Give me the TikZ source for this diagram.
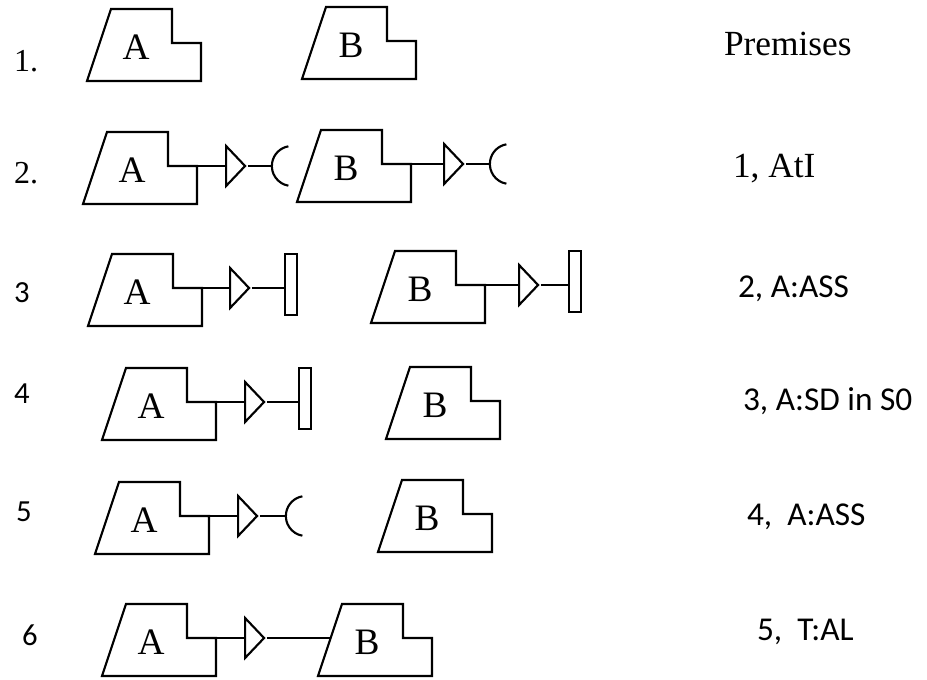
\documentclass[tikz,border=0pt]{standalone}
\usepackage{fontspec}
\setmainfont{Liberation Serif}
\newfontfamily\calibri{Carlito}
\usetikzlibrary{positioning, shapes.geometric}

\begin{document}
\begin{tikzpicture}[
  x=0.75pt, y=-0.75pt,
  line width=1.6pt,
  lbl/.style={inner sep=0, font=\fontsize{28}{30}\selectfont},
  blk/.pic={
    \draw (0,0) -- (24,-72) -- (85,-72) -- (85,-38) -- (114,-38) -- (114,0) -- cycle;
    \coordinate (-c) at (49,-34);
    \coordinate (-out) at (114,-38);
    \coordinate (-in) at (13,-38);
  },
  amp/.style={draw, isosceles triangle, isosceles triangle stretches,
              minimum width=30pt, minimum height=14.25pt, inner sep=0},
  bar/.style={draw, rectangle, minimum width=9pt, minimum height=46pt,
              inner sep=0, yshift=2.5pt},
  num/.style={anchor=base west, inner sep=0, font=\fontsize{24}{26}\selectfont},
  cnum/.style={anchor=base west, inner sep=0, font=\calibri\fontsize{23}{26}\selectfont},
  note/.style={anchor=base west, inner sep=0, font=\fontsize{26.5}{30}\selectfont},
  rule/.style={anchor=base west, inner sep=0, font=\calibri\fontsize{25}{28}\selectfont}
]
  \useasboundingbox (0,0) rectangle (927,679);

  % 1. premises
  \node[num] (n1) at (13,71) {1.};
  \pic (a1) at (87,81) {blk};
  \pic (b1) at (302,79) {blk};
  \node[note] (r1) at (723,55) {Premises};

  % 2.
  \node[num] (n2) at (13,183) {2.};
  \pic (a2) at (83,204) {blk};
  \node[amp, right=21pt of a2-out] (t2a) {};
  \coordinate[right=18pt of t2a.apex] (s2a);
  \pic (b2) at (297,202) {blk};
  \node[amp, right=24pt of b2-out] (t2b) {};
  \coordinate[right=18pt of t2b.apex] (s2b);
  \node[note] (r2) at (732,177) {1, AtI};
  \draw (a2-out) -- (t2a) (t2a.apex) -- (s2a);
  \draw (b2-out) -- (t2b) (t2b.apex) -- (s2b);

  % 3
  \node[cnum] (n3) at (13,302) {3};
  \pic (a3) at (88,326) {blk};
  \node[amp, right=20.25pt of a3-out] (t3a) {};
  \node[bar, right=24pt of t3a.apex] (p3a) {};
  \pic (b3) at (371,323) {blk};
  \node[amp, right=24.75pt of b3-out] (t3b) {};
  \node[bar, right=20pt of t3b.apex] (p3b) {};
  \node[rule] (r3) at (737,297) {2, A:ASS};
  \draw (a3-out) -- (t3a) (t3a.apex) -- (t3a.apex -| p3a.west);
  \draw (b3-out) -- (t3b) (t3b.apex) -- (t3b.apex -| p3b.west);

  % 4
  \node[cnum] (n4) at (13,403) {4};
  \pic (a4) at (102,440) {blk};
  \node[amp, right=21pt of a4-out] (t4a) {};
  \node[bar, right=23.25pt of t4a.apex] (p4a) {};
  \pic (b4) at (386,439) {blk};
  \node[rule] (r4) at (742,410) {3, A:SD in S0};
  \draw (a4-out) -- (t4a) (t4a.apex) -- (t4a.apex -| p4a.west);

  % 5
  \node[cnum] (n5) at (15,521) {5};
  \pic (a5) at (95,554) {blk};
  \node[amp, right=21pt of a5-out] (t5a) {};
  \coordinate[right=19.5pt of t5a.apex] (s5a);
  \pic (b5) at (378,552) {blk};
  \node[rule] (r5) at (746,525) {4,\ \ A:ASS};
  \draw (a5-out) -- (t5a) (t5a.apex) -- (s5a);

  % 6
  \node[cnum] (n6) at (21,645) {6};
  \pic (a6) at (102,676) {blk};
  \node[amp, right=21pt of a6-out] (t6a) {};
  \pic (b6) at (318,676) {blk};
  \node[rule] (r6) at (756,640) {5,\ \ T:AL};
  \draw (a6-out) -- (t6a) (t6a.apex) -- (b6-in);

  % letters in the blocks
  \foreach \p/\t in {a1/A, b1/B, a2/A, b2/B, a3/A, b3/B, a4/A, b4/B, a5/A, b5/B, a6/A, b6/B}
    \node[lbl] (\p-lbl) at (\p-c) {\t};

  % sockets
  \foreach \s in {s2a, s2b, s5a}
    \draw (\s) ++(20,0) ++(100:20) arc (100:260:20);
\end{tikzpicture}
\end{document}
